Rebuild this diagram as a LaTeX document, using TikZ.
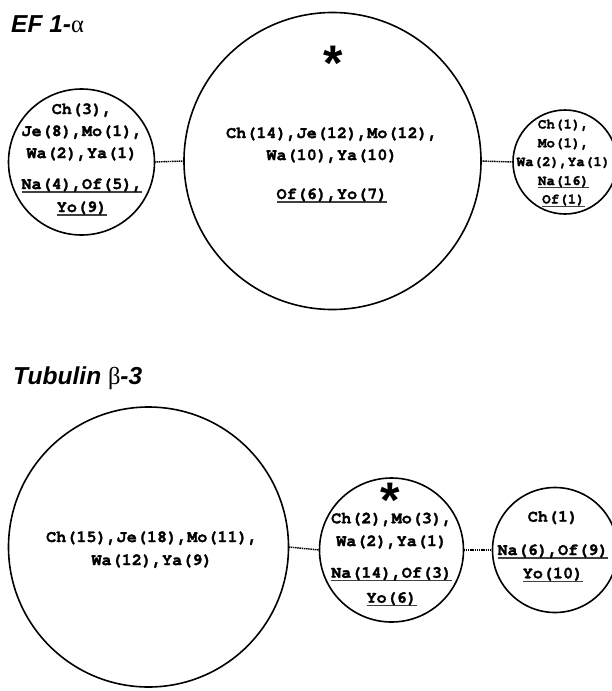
\documentclass[tikz,border=0pt]{standalone}
\usepackage{fontspec}
\setmainfont{Liberation Sans}
\newfontfamily\monofam{TeX Gyre Cursor}[BoldFeatures={FakeBold=1.6}]
\newfontfamily\greekfam{Liberation Serif}
\newcommand\myul[1]{\setbox0\hbox{#1}\rlap{\color{black!75}\rule[-0.22em]{\wd0}{0.075em}}\box0}
\tikzset{
  circ/.style={draw=black, line width=1.6pt, circle, inner sep=0pt, outer sep=0pt},
  conn/.style={line width=1.4pt, dash pattern=on 1.5pt off 0.7pt},
  tl/.style={anchor=base, inner sep=0pt, font=\monofam\bfseries\fontsize{16.8}{20}\selectfont},
  tls/.style={anchor=base, inner sep=0pt, font=\monofam\bfseries\fontsize{14.2}{17}\selectfont},
  ttl/.style={anchor=base west, inner sep=0pt, font=\bfseries\itshape\fontsize{24.5}{28}\selectfont},
  star/.style={anchor=base, inner sep=0pt, font=\bfseries\fontsize{50}{54}\selectfont}
}
\begin{document}
\begin{tikzpicture}[x=1pt,y=-1pt]
\useasboundingbox (0,0) rectangle (611,691);
% titles
\node[ttl] (title1) at (11,32) {EF 1-{\greekfam\mdseries\upshape α}};
\node[ttl] (title2) at (13,384) {Tubulin {\greekfam\mdseries\upshape β}-3};
% top row circles
\node[circ, minimum size=146pt] (A1) at (81.5,162) {};
\node[circ, minimum size=297pt] (A2) at (332.5,161) {};
\node[circ, minimum size=104pt] (A3) at (565,162) {};
\draw[conn] (A1.east) -- (A2.west);
\draw[conn] (A2.east) -- (A3.west);
% A1 text
\node[tl] (a1l1) at (82,114) {Ch(3),};
\node[tl] (a1l2) at (82,136) {Je(8),Mo(1),};
\node[tl] (a1l3) at (82,158) {Wa(2),Ya(1)};
\node[tl] (a1l4) at (82,189) {\myul{Na(4),Of(5),}};
\node[tl] (a1l5) at (82,212) {\myul{Yo(9)}};
% A2 text
\node[star] (a2s) at (333,80) {*};
\node[tl] (a2l1) at (332,138) {Ch(14),Je(12),Mo(12),};
\node[tl] (a2l2) at (332,160) {Wa(10),Ya(10)};
\node[tl] (a2l3) at (332,199) {\myul{Of(6),Yo(7)}};
% A3 text
\node[tls] (a3l1) at (563.5,128.5) {Ch(1),};
\node[tls] (a3l2) at (563.5,147.3) {Mo(1),};
\node[tls] (a3l3) at (563.5,166) {Wa(2),Ya(1)};
\node[tls] (a3l4) at (563.5,185) {\myul{Na(16)}};
\node[tls] (a3l5) at (563.5,203.5) {\myul{Of(1)}};
% bottom row circles
\node[circ, minimum size=280pt] (B1) at (148.5,547) {};
\node[circ, minimum size=144pt] (B2) at (391.5,550) {};
\node[circ, minimum size=125pt] (B3) at (555,550) {};
\draw[conn] (B1.east) -- (B2.west);
\draw[conn] (B2.east) -- (B3.west);
% B1 text
\node[tl] (b1l1) at (152,542) {Ch(15),Je(18),Mo(11),};
\node[tl] (b1l2) at (152,565) {Wa(12),Ya(9)};
% B2 text
\node[star] (b2s) at (390,517) {*};
\node[tl] (b2l1) at (391.7,523.3) {Ch(2),Mo(3),};
\node[tl] (b2l2) at (391.7,546) {Wa(2),Ya(1)};
\node[tl] (b2l3) at (391.7,577.7) {\myul{Na(14),Of(3)}};
\node[tl] (b2l4) at (391.7,602.7) {\myul{Yo(6)}};
% B3 text
\node[tl] (b3l1) at (553,521.7) {Ch(1)};
\node[tl] (b3l2) at (553,555) {\myul{Na(6),Of(9)}};
\node[tl] (b3l3) at (553,578.3) {\myul{Yo(10)}};
\end{tikzpicture}
\end{document}
